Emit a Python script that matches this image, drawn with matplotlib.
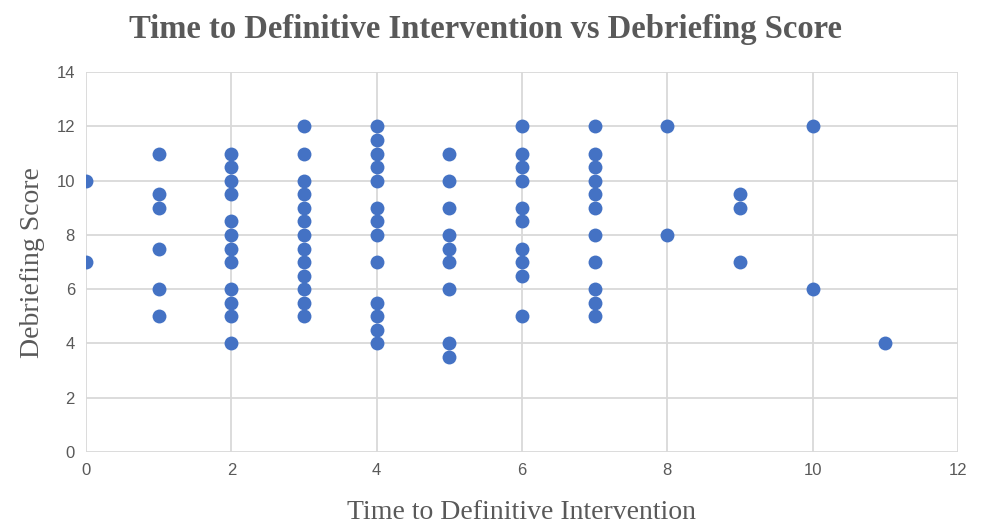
import numpy as np
import matplotlib.pyplot as plt

# time to definitive intervention (x) and debriefing score (y), one list per x value
x_vals = [0, 1, 2, 3, 4, 5, 6, 7, 8, 9, 10, 11]
scores = [
    [10, 7],
    [11, 9.5, 9, 7.5, 6, 5],
    [11, 10.5, 10, 9.5, 8.5, 8, 7.5, 7, 6, 5.5, 5, 4],
    [12, 11, 10, 9.5, 9, 8.5, 8, 7.5, 7, 6.5, 6, 5.5, 5],
    [12, 11.5, 11, 10.5, 10, 9, 8.5, 8, 7, 5.5, 5, 4.5, 4],
    [11, 10, 9, 8, 7.5, 7, 6, 4, 3.5],
    [12, 11, 10.5, 10, 9, 8.5, 7.5, 7, 6.5, 5],
    [12, 11, 10.5, 10, 9.5, 9, 8, 7, 6, 5.5, 5],
    [12, 8],
    [9.5, 9, 7],
    [12, 6],
    [4],
]

x = np.concatenate([[xv] * len(s) for xv, s in zip(x_vals, scores)])
y = np.concatenate(scores)

fig = plt.figure(figsize=(9.83, 5.29), dpi=100)
ax = fig.add_axes([0.0875, 0.1456, 0.887, 0.718])

ax.scatter(x, y, s=100, color="#4472C4", zorder=3, linewidths=0)

ax.set_xlim(0, 12)
ax.set_ylim(0, 14)
ax.set_xticks(range(0, 13, 2))
ax.set_yticks(range(0, 15, 2))
ax.grid(True, color="#d9d9d9", linewidth=1.3)
ax.set_axisbelow(True)
for sp in ax.spines.values():
    sp.set_visible(False)
ax.tick_params(length=0, labelsize=12, labelcolor="#595959", pad=8)
for lbl in ax.get_xticklabels() + ax.get_yticklabels():
    lbl.set_family("Liberation Sans")

fig.text(0.494, 0.944, "Time to Definitive Intervention vs Debriefing Score",
         family="Liberation Serif", fontsize=23.5, fontweight="bold",
         color="#595959", ha="center", va="center")
ax.set_xlabel("Time to Definitive Intervention", family="Liberation Serif",
              fontsize=20, color="#595959", labelpad=16)
ax.set_ylabel("Debriefing Score", family="Liberation Serif",
              fontsize=20, color="#595959", labelpad=8)

fig.savefig("out.png")
